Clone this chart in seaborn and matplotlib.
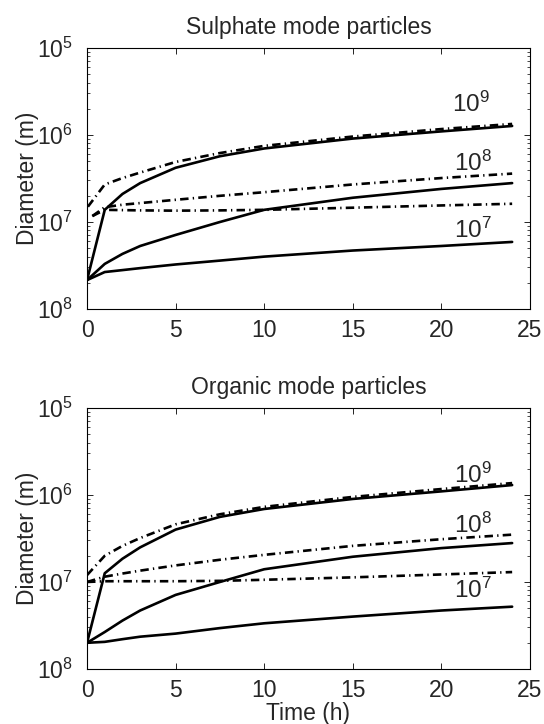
import numpy as np
import pandas as pd
import matplotlib
matplotlib.use("Agg")
import matplotlib.pyplot as plt
import seaborn as sns

# ---------------- data ----------------
t_solid = [0, 1, 2, 3, 5, 7.5, 10, 15, 20, 24]

# Sulphate mode particles
sul_solid_1e9 = [2.15e-8, 1.38e-7, 2.1e-7, 2.8e-7, 4.2e-7, 5.7e-7, 7.0e-7, 9.1e-7, 1.1e-6, 1.27e-6]
sul_solid_1e8 = [2.15e-8, 3.3e-8, 4.3e-8, 5.3e-8, 7.1e-8, 1.0e-7, 1.38e-7, 1.9e-7, 2.4e-7, 2.8e-7]
sul_solid_1e7 = [2.15e-8, 2.66e-8, 2.8e-8, 2.95e-8, 3.25e-8, 3.6e-8, 4.0e-8, 4.7e-8, 5.3e-8, 5.9e-8]

t_dash_sul = [0.05, 1, 2, 3, 5, 7.5, 10, 15, 20, 24]
t_dash_sul_low = [0.3, 1, 2, 3, 5, 7.5, 10, 15, 20, 24]
sul_dash_1e9 = [1.5e-7, 2.7e-7, 3.2e-7, 3.7e-7, 4.9e-7, 6.2e-7, 7.5e-7, 9.6e-7, 1.17e-6, 1.34e-6]
sul_dash_1e8 = [1.17e-7, 1.48e-7, 1.58e-7, 1.65e-7, 1.8e-7, 2.0e-7, 2.2e-7, 2.7e-7, 3.2e-7, 3.6e-7]
sul_dash_1e7 = [1.17e-7, 1.38e-7, 1.37e-7, 1.36e-7, 1.35e-7, 1.36e-7, 1.38e-7, 1.46e-7, 1.55e-7, 1.62e-7]

# Organic mode particles
org_solid_1e9 = [2.0e-8, 1.26e-7, 1.85e-7, 2.5e-7, 4.0e-7, 5.6e-7, 6.9e-7, 9.0e-7, 1.1e-6, 1.3e-6]
org_solid_1e8 = [2.0e-8, 2.66e-8, 3.6e-8, 4.7e-8, 7.1e-8, 1.0e-7, 1.4e-7, 1.95e-7, 2.45e-7, 2.8e-7]
org_solid_1e7 = [2.0e-8, 2.05e-8, 2.2e-8, 2.35e-8, 2.55e-8, 2.95e-8, 3.35e-8, 4.0e-8, 4.7e-8, 5.2e-8]

t_dash_org = [0, 1, 2, 3, 5, 7.5, 10, 15, 20, 24]
org_dash_1e9 = [1.2e-7, 2.0e-7, 2.6e-7, 3.2e-7, 4.6e-7, 6.0e-7, 7.3e-7, 9.5e-7, 1.17e-6, 1.37e-6]
org_dash_1e8 = [1.0e-7, 1.15e-7, 1.25e-7, 1.35e-7, 1.55e-7, 1.8e-7, 2.05e-7, 2.6e-7, 3.1e-7, 3.5e-7]
org_dash_1e7 = [1.0e-7, 1.02e-7, 1.02e-7, 1.02e-7, 1.02e-7, 1.03e-7, 1.06e-7, 1.13e-7, 1.22e-7, 1.3e-7]

titles = ["Sulphate mode particles", "Organic mode particles"]
ytick_vals = [1e-8, 1e-7, 1e-6, 1e-5]
ytick_labels = [r"$\mathregular{10^{8}}$", r"$\mathregular{10^{7}}$",
                r"$\mathregular{10^{6}}$", r"$\mathregular{10^{5}}$"]
xticks = [0, 5, 10, 15, 20, 25]
curve_labels = [r"$\mathregular{10^{9}}$", r"$\mathregular{10^{8}}$", r"$\mathregular{10^{7}}$"]
label_pos = [
    [(21.7, 10**-5.65), (21.8, 10**-6.33), (21.8, 10**-7.10)],
    [(21.8, 10**-5.77), (21.8, 10**-6.35), (21.8, 10**-7.10)],
]

# ---------------- style ----------------
sns.set_style("ticks")
plt.rcParams["font.family"] = ["Liberation Sans", "DejaVu Sans"]
plt.rcParams["mathtext.fontset"] = "custom"
plt.rcParams["mathtext.rm"] = "Liberation Sans"
plt.rcParams["mathtext.it"] = "Liberation Sans:italic"
plt.rcParams["mathtext.bf"] = "Liberation Sans:bold"

FS = 16.5
fig = plt.figure(figsize=(5.44, 7.24), dpi=100)
ax_top = fig.add_axes([0.160, 0.5732, 0.814, 0.3605])
ax_bot = fig.add_axes([0.160, 0.0760, 0.814, 0.3605])

DASHDOT = (0, (3.2, 1.6, 0.5, 1.6))
LW = 1.9

panels = [
    (ax_top, [(t_solid, sul_solid_1e9), (t_solid, sul_solid_1e8), (t_solid, sul_solid_1e7)],
     [(t_dash_sul, sul_dash_1e9), (t_dash_sul_low, sul_dash_1e8), (t_dash_sul_low, sul_dash_1e7)]),
    (ax_bot, [(t_solid, org_solid_1e9), (t_solid, org_solid_1e8), (t_solid, org_solid_1e7)],
     [(t_dash_org, org_dash_1e9), (t_dash_org, org_dash_1e8), (t_dash_org, org_dash_1e7)]),
]

for i, (ax, solids, dashes) in enumerate(panels):
    for (tt, yy) in dashes:
        df = pd.DataFrame({"t": tt, "d": yy})
        sns.lineplot(data=df, x="t", y="d", ax=ax, color="black", lw=LW,
                     linestyle=DASHDOT, estimator=None, sort=False)
    for (tt, yy) in solids:
        df = pd.DataFrame({"t": tt, "d": yy})
        sns.lineplot(data=df, x="t", y="d", ax=ax, color="black", lw=LW,
                     linestyle="-", estimator=None, sort=False)
    ax.set_yscale("log")
    ax.set_xlim(0, 25)
    ax.set_ylim(1e-8, 1e-5)
    ax.set_xticks(xticks)
    ax.set_xticklabels([str(x) for x in xticks])
    ax.set_yticks(ytick_vals)
    ax.set_yticklabels(ytick_labels)
    ax.tick_params(which="both", direction="in", top=True, right=True,
                   labelsize=FS, color="black")
    ax.tick_params(axis="x", pad=7)
    ax.tick_params(axis="y", pad=10)
    ax.tick_params(which="major", length=4, width=0.6)
    ax.tick_params(which="minor", length=2, width=0.5)
    ax.xaxis.set_minor_locator(matplotlib.ticker.NullLocator())
    for s in ax.spines.values():
        s.set_visible(True)
        s.set_linewidth(0.8)
        s.set_color("black")
    ax.set_title(titles[i], fontsize=FS, pad=10)
    ax.set_ylabel("Diameter (m)", fontsize=FS, labelpad=-1)
    ax.set_xlabel("Time (h)" if i == 1 else "", fontsize=FS, labelpad=0)
    for lab, (lx, ly) in zip(curve_labels, label_pos[i]):
        ax.text(lx, ly, lab, fontsize=FS + 1, ha="center", va="center")

fig.savefig("out.png", dpi=100)
